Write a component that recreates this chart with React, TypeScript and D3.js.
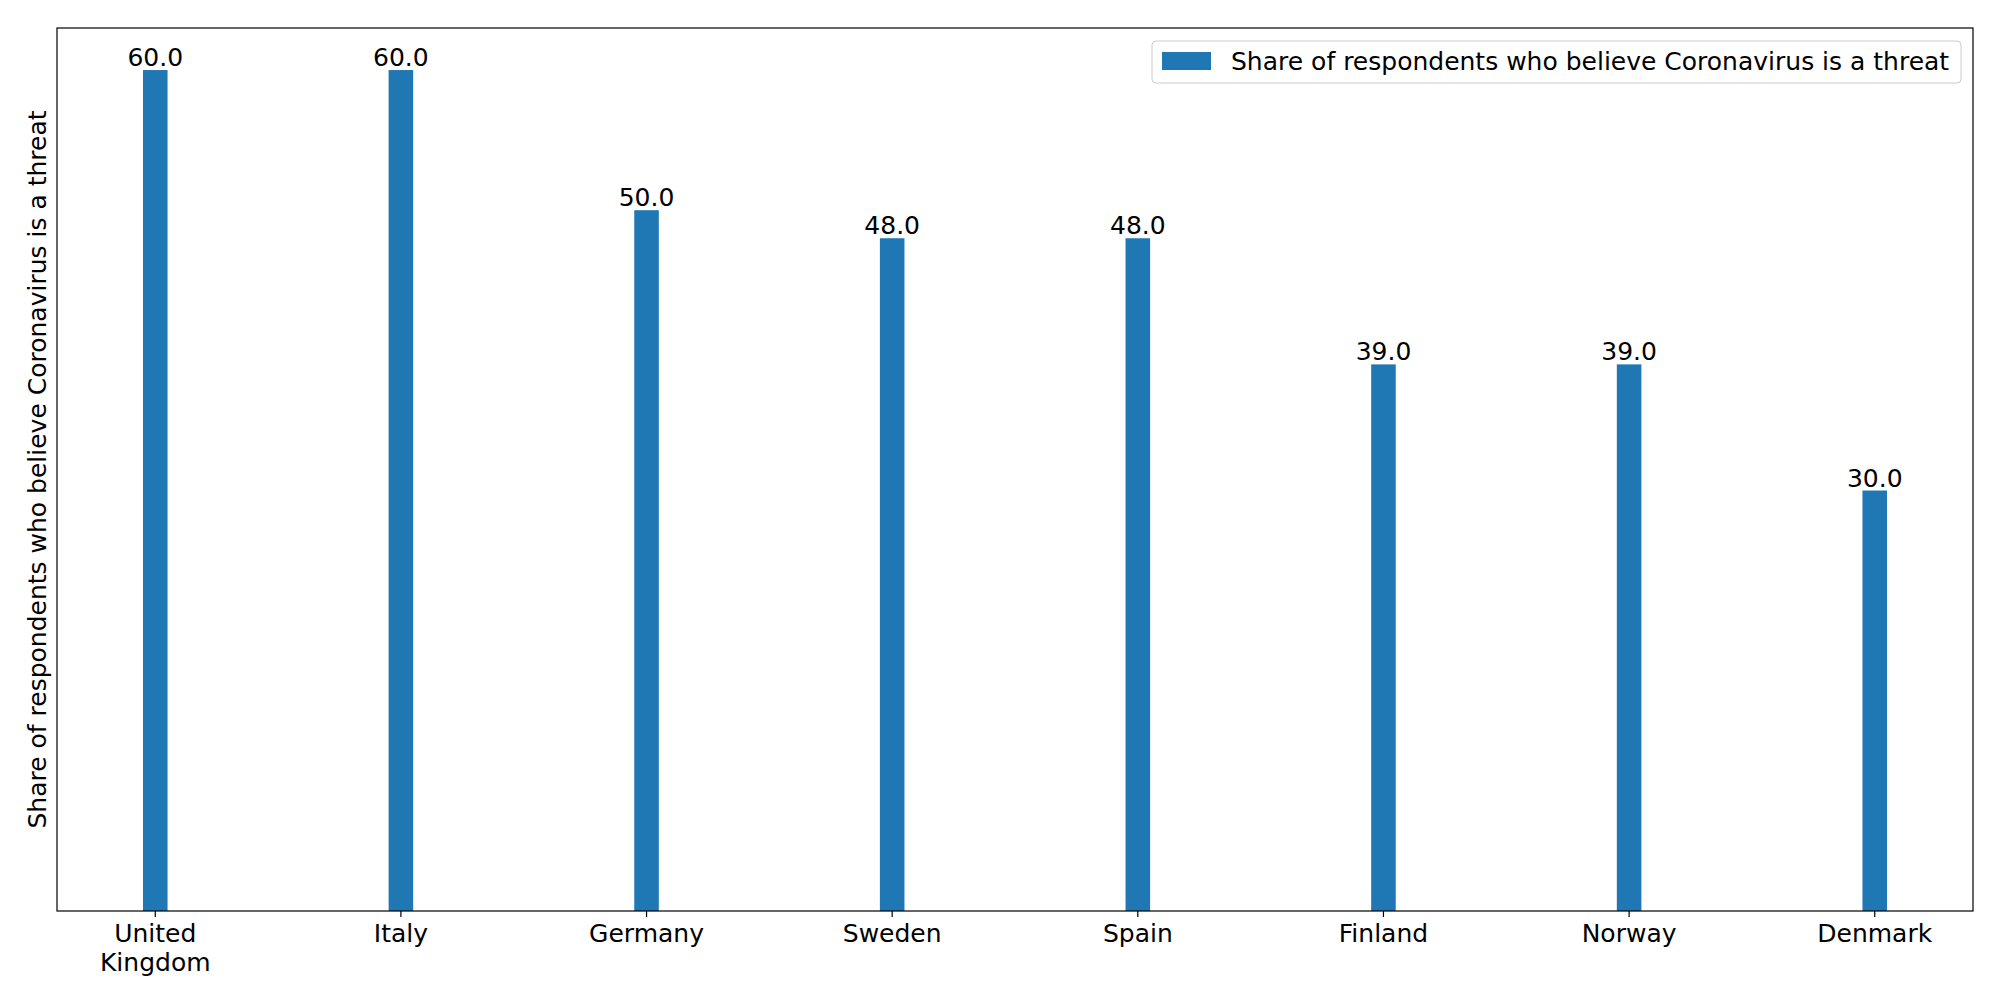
import React from "react";
import * as d3 from "d3";

const categories = ["United\nKingdom", "Italy", "Germany", "Sweden", "Spain", "Finland", "Norway", "Denmark"];
const values = [60, 60, 50, 48, 48, 39, 39, 30];
const seriesName = "Share of respondents who believe Coronavirus is a threat";

export default function App() {
  const W = 2000, H = 1000;
  const L = 57, R = 1973, T = 28, B = 911;
  const x = d3.scaleLinear().domain([-0.4, categories.length - 1 + 0.4]).range([L, R]);
  const y = d3.scaleLinear().domain([0, 63]).range([B, T]);
  const bw = x(0.1) - x(0);
  const font = "DejaVu Sans, sans-serif";
  const fs = 25;
  return (
    <svg width={W} height={H} style={{ position: "absolute", left: 0, top: 0, background: "#fff" }} fontFamily={font}>
      {values.map((v, i) => (
        <g key={i}>
          <rect x={x(i) - bw / 2} y={y(v)} width={bw} height={y(0) - y(v)} fill="#1f77b4" />
          <text x={x(i)} y={y(v) - 4} textAnchor="middle" fontSize={fs} fill="#000">{v.toFixed(1)}</text>
        </g>
      ))}
      <rect x={L} y={T} width={R - L} height={B - T} fill="none" stroke="#000" strokeWidth={1.2} />
      {categories.map((c, i) => (
        <g key={i}>
          <line x1={x(i)} x2={x(i)} y1={B} y2={B + 6} stroke="#000" strokeWidth={1.2} />
          {c.split("\n").map((s, j) => (
            <text key={j} x={x(i)} y={B + 31 + j * 29} textAnchor="middle" fontSize={fs} fill="#000">{s}</text>
          ))}
        </g>
      ))}
      <text transform={`translate(46,${(T + B) / 2}) rotate(-90)`} textAnchor="middle" fontSize={fs} fill="#000">{seriesName}</text>
      <g>
        <rect x={1152} y={41} width={809} height={42} rx={4} fill="#fff" stroke="#ccc" />
        <rect x={1162} y={52} width={49} height={18} fill="#1f77b4" />
        <text x={1231} y={70} fontSize={fs} fill="#000">{seriesName}</text>
      </g>
    </svg>
  );
}
